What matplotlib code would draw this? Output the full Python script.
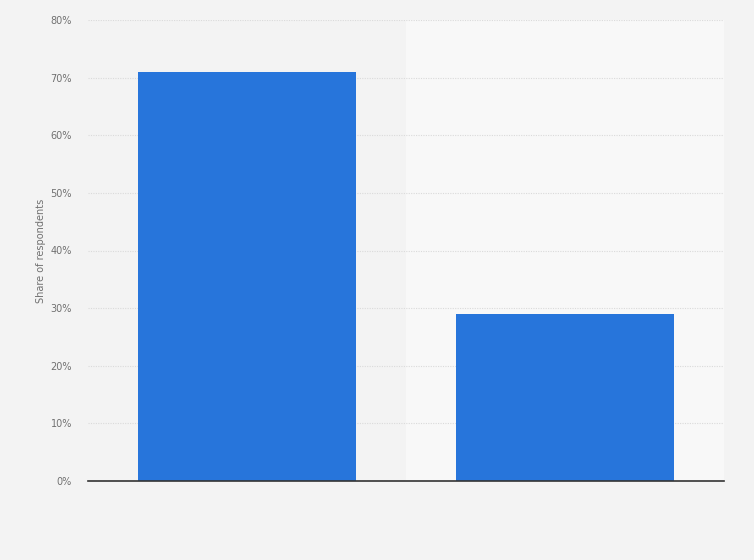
import matplotlib.pyplot as plt
from matplotlib.ticker import FuncFormatter

# Дані діаграми
categories = ['A', 'B']
shares = [71, 29]
y_ticks = [0, 10, 20, 30, 40, 50, 60, 70, 80]

fig = plt.figure(figsize=(7.54, 5.6), dpi=100)
fig.patch.set_facecolor('#f3f3f3')
ax = fig.add_axes([88 / 754, 1 - 481 / 560, 636 / 754, 461 / 560])
ax.set_facecolor('#f3f3f3')

# Смуги фону для категорій
x = list(range(len(categories)))
for i in x:
    ax.axvspan(i - 0.5, i + 0.5, color='#f3f3f3' if i % 2 == 0 else '#f8f8f8', zorder=0)

ax.bar(x, shares, width=0.686, color='#2775db', zorder=3)

ax.set_xlim(-0.5, len(categories) - 0.5)
ax.set_ylim(0, 80)
ax.set_yticks(y_ticks)
ax.yaxis.set_major_formatter(FuncFormatter(lambda v, _: f'{v:.0f}%'))
ax.set_xticks([])
ax.tick_params(axis='y', length=0, labelsize=7, labelcolor='#707070', pad=11.5)
ax.grid(axis='y', color='#dadada', linestyle=(0, (1, 1.2)), linewidth=0.8, zorder=1)

for side in ['top', 'right', 'left']:
    ax.spines[side].set_visible(False)
ax.spines['bottom'].set_color('#333333')
ax.spines['bottom'].set_linewidth(1.2)
ax.spines['bottom'].set_zorder(4)

ax.set_ylabel('Share of respondents', fontsize=7, color='#707070')
ax.yaxis.set_label_coords(-0.066, 0.5)

plt.savefig('out.png', dpi=100, facecolor=fig.get_facecolor())
